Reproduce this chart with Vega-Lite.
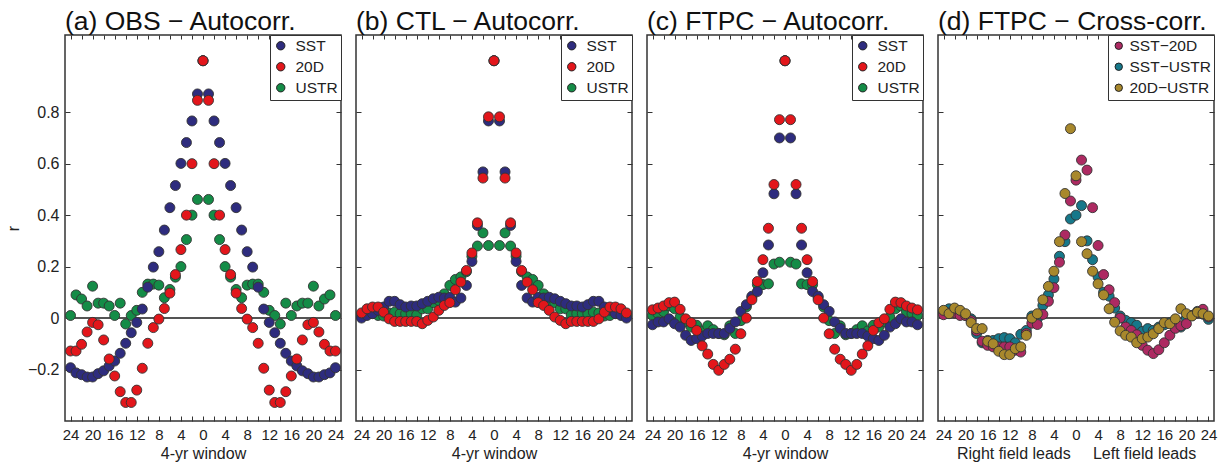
{
"$schema": "https://vega.github.io/schema/vega-lite/v6.json",
"background": "white",
"padding": {"left": 4, "top": 8, "right": 5, "bottom": 5},
"spacing": 7,
"config": {
  "font": "Liberation Sans",
  "view": {"stroke": "#333", "strokeWidth": 1.5},
  "axis": {"grid": false, "domain": false, "tickColor": "#333", "tickWidth": 1, "labelColor": "#222", "titleColor": "#222", "titleFontWeight": "normal", "labelFontSize": 16, "titleFontSize": 16, "labelFont": "Liberation Sans", "titleFont": "Liberation Sans"},
  "title": {"fontSize": 26.5, "fontWeight": "normal", "anchor": "start", "frame": "group", "offset": -1, "color": "#111", "font": "Liberation Sans"},
  "legend": {"strokeColor": "#333", "fillColor": "white", "padding": 3, "labelFontSize": 15.5, "symbolSize": 70, "symbolType": "circle", "rowPadding": 4, "symbolStrokeColor": "#222", "symbolStrokeWidth": 1, "labelColor": "#222", "labelOffset": 7, "labelFont": "Liberation Sans"}
},
"datasets": {
  "A": [
    {"lag": -24, "SST": -0.193, "20D": -0.128, "USTR": 0.01},
    {"lag": -23, "SST": -0.213, "20D": -0.128, "USTR": 0.09},
    {"lag": -22, "SST": -0.22, "20D": -0.102, "USTR": 0.074},
    {"lag": -21, "SST": -0.229, "20D": -0.054, "USTR": 0.047},
    {"lag": -20, "SST": -0.229, "20D": -0.017, "USTR": 0.124},
    {"lag": -19, "SST": -0.216, "20D": -0.026, "USTR": 0.058},
    {"lag": -18, "SST": -0.205, "20D": -0.085, "USTR": 0.058},
    {"lag": -17, "SST": -0.186, "20D": -0.159, "USTR": 0.047},
    {"lag": -16, "SST": -0.167, "20D": -0.225, "USTR": 0.01},
    {"lag": -15, "SST": -0.137, "20D": -0.286, "USTR": 0.058},
    {"lag": -14, "SST": -0.098, "20D": -0.328, "USTR": -0.023},
    {"lag": -13, "SST": -0.057, "20D": -0.328, "USTR": 0.01},
    {"lag": -12, "SST": -0.017, "20D": -0.28, "USTR": 0.03},
    {"lag": -11, "SST": 0.035, "20D": -0.195, "USTR": 0.1},
    {"lag": -10, "SST": 0.12, "20D": -0.098, "USTR": 0.132},
    {"lag": -9, "SST": 0.198, "20D": -0.037, "USTR": 0.132},
    {"lag": -8, "SST": 0.258, "20D": -0.004, "USTR": 0.128},
    {"lag": -7, "SST": 0.342, "20D": 0.037, "USTR": 0.079},
    {"lag": -6, "SST": 0.429, "20D": 0.097, "USTR": 0.111},
    {"lag": -5, "SST": 0.515, "20D": 0.169, "USTR": 0.159},
    {"lag": -4, "SST": 0.601, "20D": 0.266, "USTR": 0.2},
    {"lag": -3, "SST": 0.682, "20D": 0.4, "USTR": 0.305},
    {"lag": -2, "SST": 0.766, "20D": 0.6, "USTR": 0.4},
    {"lag": -1, "SST": 0.871, "20D": 0.846, "USTR": 0.461},
    {"lag": 0, "SST": 1, "20D": 1, "USTR": 1},
    {"lag": 1, "SST": 0.871, "20D": 0.846, "USTR": 0.461},
    {"lag": 2, "SST": 0.766, "20D": 0.6, "USTR": 0.4},
    {"lag": 3, "SST": 0.682, "20D": 0.4, "USTR": 0.305},
    {"lag": 4, "SST": 0.601, "20D": 0.266, "USTR": 0.2},
    {"lag": 5, "SST": 0.515, "20D": 0.169, "USTR": 0.159},
    {"lag": 6, "SST": 0.429, "20D": 0.097, "USTR": 0.111},
    {"lag": 7, "SST": 0.342, "20D": 0.037, "USTR": 0.079},
    {"lag": 8, "SST": 0.258, "20D": -0.004, "USTR": 0.128},
    {"lag": 9, "SST": 0.198, "20D": -0.037, "USTR": 0.132},
    {"lag": 10, "SST": 0.12, "20D": -0.098, "USTR": 0.132},
    {"lag": 11, "SST": 0.035, "20D": -0.195, "USTR": 0.1},
    {"lag": 12, "SST": -0.017, "20D": -0.28, "USTR": 0.03},
    {"lag": 13, "SST": -0.057, "20D": -0.328, "USTR": 0.01},
    {"lag": 14, "SST": -0.098, "20D": -0.328, "USTR": -0.023},
    {"lag": 15, "SST": -0.137, "20D": -0.286, "USTR": 0.058},
    {"lag": 16, "SST": -0.167, "20D": -0.225, "USTR": 0.01},
    {"lag": 17, "SST": -0.186, "20D": -0.159, "USTR": 0.047},
    {"lag": 18, "SST": -0.205, "20D": -0.085, "USTR": 0.058},
    {"lag": 19, "SST": -0.216, "20D": -0.026, "USTR": 0.058},
    {"lag": 20, "SST": -0.229, "20D": -0.017, "USTR": 0.124},
    {"lag": 21, "SST": -0.229, "20D": -0.054, "USTR": 0.047},
    {"lag": 22, "SST": -0.22, "20D": -0.102, "USTR": 0.074},
    {"lag": 23, "SST": -0.213, "20D": -0.128, "USTR": 0.09},
    {"lag": 24, "SST": -0.193, "20D": -0.128, "USTR": 0.01}
  ],
  "B": [
    {"lag": -24, "SST": 0.0, "20D": 0.02, "USTR": 0.01},
    {"lag": -23, "SST": 0.01, "20D": 0.036, "USTR": 0.02},
    {"lag": -22, "SST": 0.017, "20D": 0.043, "USTR": 0.02},
    {"lag": -21, "SST": 0.03, "20D": 0.043, "USTR": 0.01},
    {"lag": -20, "SST": 0.043, "20D": 0.023, "USTR": 0.008},
    {"lag": -19, "SST": 0.065, "20D": -0.003, "USTR": 0.02},
    {"lag": -18, "SST": 0.065, "20D": -0.013, "USTR": 0.023},
    {"lag": -17, "SST": 0.052, "20D": -0.013, "USTR": 0.017},
    {"lag": -16, "SST": 0.043, "20D": -0.013, "USTR": 0.017},
    {"lag": -15, "SST": 0.047, "20D": -0.013, "USTR": 0.017},
    {"lag": -14, "SST": 0.047, "20D": -0.013, "USTR": 0.012},
    {"lag": -13, "SST": 0.056, "20D": -0.022, "USTR": 0.036},
    {"lag": -12, "SST": 0.065, "20D": -0.009, "USTR": 0.036},
    {"lag": -11, "SST": 0.075, "20D": 0.004, "USTR": 0.06},
    {"lag": -10, "SST": 0.081, "20D": 0.03, "USTR": 0.068},
    {"lag": -9, "SST": 0.078, "20D": 0.049, "USTR": 0.094},
    {"lag": -8, "SST": 0.08, "20D": 0.06, "USTR": 0.127},
    {"lag": -7, "SST": 0.062, "20D": 0.11, "USTR": 0.15},
    {"lag": -6, "SST": 0.078, "20D": 0.14, "USTR": 0.16},
    {"lag": -5, "SST": 0.127, "20D": 0.185, "USTR": 0.18},
    {"lag": -4, "SST": 0.22, "20D": 0.253, "USTR": 0.24},
    {"lag": -3, "SST": 0.36, "20D": 0.37, "USTR": 0.28},
    {"lag": -2, "SST": 0.568, "20D": 0.544, "USTR": 0.331},
    {"lag": -1, "SST": 0.766, "20D": 0.782, "USTR": 0.282},
    {"lag": 0, "SST": 1, "20D": 1, "USTR": 1},
    {"lag": 1, "SST": 0.766, "20D": 0.782, "USTR": 0.282},
    {"lag": 2, "SST": 0.568, "20D": 0.544, "USTR": 0.331},
    {"lag": 3, "SST": 0.36, "20D": 0.37, "USTR": 0.28},
    {"lag": 4, "SST": 0.22, "20D": 0.253, "USTR": 0.24},
    {"lag": 5, "SST": 0.127, "20D": 0.185, "USTR": 0.18},
    {"lag": 6, "SST": 0.078, "20D": 0.14, "USTR": 0.16},
    {"lag": 7, "SST": 0.062, "20D": 0.11, "USTR": 0.15},
    {"lag": 8, "SST": 0.08, "20D": 0.06, "USTR": 0.127},
    {"lag": 9, "SST": 0.078, "20D": 0.049, "USTR": 0.094},
    {"lag": 10, "SST": 0.081, "20D": 0.03, "USTR": 0.068},
    {"lag": 11, "SST": 0.075, "20D": 0.004, "USTR": 0.06},
    {"lag": 12, "SST": 0.065, "20D": -0.009, "USTR": 0.036},
    {"lag": 13, "SST": 0.056, "20D": -0.022, "USTR": 0.036},
    {"lag": 14, "SST": 0.047, "20D": -0.013, "USTR": 0.012},
    {"lag": 15, "SST": 0.047, "20D": -0.013, "USTR": 0.017},
    {"lag": 16, "SST": 0.043, "20D": -0.013, "USTR": 0.017},
    {"lag": 17, "SST": 0.052, "20D": -0.013, "USTR": 0.017},
    {"lag": 18, "SST": 0.065, "20D": -0.013, "USTR": 0.023},
    {"lag": 19, "SST": 0.065, "20D": -0.003, "USTR": 0.02},
    {"lag": 20, "SST": 0.043, "20D": 0.023, "USTR": 0.008},
    {"lag": 21, "SST": 0.03, "20D": 0.043, "USTR": 0.01},
    {"lag": 22, "SST": 0.017, "20D": 0.043, "USTR": 0.02},
    {"lag": 23, "SST": 0.01, "20D": 0.036, "USTR": 0.02},
    {"lag": 24, "SST": 0.0, "20D": 0.02, "USTR": 0.01}
  ],
  "C": [
    {"lag": -24, "SST": -0.026, "20D": 0.032, "USTR": 0.01},
    {"lag": -23, "SST": -0.015, "20D": 0.039, "USTR": 0.017},
    {"lag": -22, "SST": -0.015, "20D": 0.047, "USTR": 0.025},
    {"lag": -21, "SST": -0.003, "20D": 0.06, "USTR": 0.047},
    {"lag": -20, "SST": -0.022, "20D": 0.062, "USTR": 0.036},
    {"lag": -19, "SST": -0.035, "20D": 0.034, "USTR": 0.004},
    {"lag": -18, "SST": -0.067, "20D": -0.003, "USTR": -0.015},
    {"lag": -17, "SST": -0.087, "20D": -0.018, "USTR": -0.035},
    {"lag": -16, "SST": -0.08, "20D": -0.048, "USTR": -0.028},
    {"lag": -15, "SST": -0.07, "20D": -0.108, "USTR": -0.05},
    {"lag": -14, "SST": -0.06, "20D": -0.14, "USTR": -0.03},
    {"lag": -13, "SST": -0.06, "20D": -0.18, "USTR": -0.045},
    {"lag": -12, "SST": -0.06, "20D": -0.203, "USTR": -0.06},
    {"lag": -11, "SST": -0.06, "20D": -0.18, "USTR": -0.065},
    {"lag": -10, "SST": -0.04, "20D": -0.16, "USTR": -0.03},
    {"lag": -9, "SST": -0.015, "20D": -0.121, "USTR": -0.06},
    {"lag": -8, "SST": 0.026, "20D": -0.061, "USTR": -0.01},
    {"lag": -7, "SST": 0.052, "20D": 0.0, "USTR": 0.043},
    {"lag": -6, "SST": 0.085, "20D": 0.071, "USTR": 0.08},
    {"lag": -5, "SST": 0.103, "20D": 0.142, "USTR": 0.13},
    {"lag": -4, "SST": 0.176, "20D": 0.227, "USTR": 0.13},
    {"lag": -3, "SST": 0.284, "20D": 0.349, "USTR": 0.133},
    {"lag": -2, "SST": 0.483, "20D": 0.519, "USTR": 0.21},
    {"lag": -1, "SST": 0.7, "20D": 0.771, "USTR": 0.217},
    {"lag": 0, "SST": 1, "20D": 1, "USTR": 1},
    {"lag": 1, "SST": 0.7, "20D": 0.771, "USTR": 0.217},
    {"lag": 2, "SST": 0.483, "20D": 0.519, "USTR": 0.21},
    {"lag": 3, "SST": 0.284, "20D": 0.349, "USTR": 0.133},
    {"lag": 4, "SST": 0.176, "20D": 0.227, "USTR": 0.13},
    {"lag": 5, "SST": 0.103, "20D": 0.142, "USTR": 0.13},
    {"lag": 6, "SST": 0.085, "20D": 0.071, "USTR": 0.08},
    {"lag": 7, "SST": 0.052, "20D": 0.0, "USTR": 0.043},
    {"lag": 8, "SST": 0.026, "20D": -0.061, "USTR": -0.01},
    {"lag": 9, "SST": -0.015, "20D": -0.121, "USTR": -0.06},
    {"lag": 10, "SST": -0.04, "20D": -0.16, "USTR": -0.03},
    {"lag": 11, "SST": -0.06, "20D": -0.18, "USTR": -0.065},
    {"lag": 12, "SST": -0.06, "20D": -0.203, "USTR": -0.06},
    {"lag": 13, "SST": -0.06, "20D": -0.18, "USTR": -0.045},
    {"lag": 14, "SST": -0.06, "20D": -0.14, "USTR": -0.03},
    {"lag": 15, "SST": -0.07, "20D": -0.108, "USTR": -0.05},
    {"lag": 16, "SST": -0.08, "20D": -0.048, "USTR": -0.028},
    {"lag": 17, "SST": -0.087, "20D": -0.018, "USTR": -0.035},
    {"lag": 18, "SST": -0.067, "20D": -0.003, "USTR": -0.015},
    {"lag": 19, "SST": -0.035, "20D": 0.034, "USTR": 0.004},
    {"lag": 20, "SST": -0.022, "20D": 0.062, "USTR": 0.036},
    {"lag": 21, "SST": -0.003, "20D": 0.06, "USTR": 0.047},
    {"lag": 22, "SST": -0.015, "20D": 0.047, "USTR": 0.025},
    {"lag": 23, "SST": -0.015, "20D": 0.039, "USTR": 0.017},
    {"lag": 24, "SST": -0.026, "20D": 0.032, "USTR": 0.01}
  ],
  "D": [
    {"lag": -24, "SST−20D": 0.013, "SST−USTR": 0.023, "20D−USTR": 0.03},
    {"lag": -23, "SST−20D": 0.02, "SST−USTR": 0.036, "20D−USTR": 0.017},
    {"lag": -22, "SST−20D": 0.02, "SST−USTR": 0.03, "20D−USTR": 0.039},
    {"lag": -21, "SST−20D": 0.01, "SST−USTR": 0.02, "20D−USTR": 0.03},
    {"lag": -20, "SST−20D": 0.01, "SST−USTR": 0.01, "20D−USTR": 0.017},
    {"lag": -19, "SST−20D": -0.01, "SST−USTR": -0.003, "20D−USTR": -0.018},
    {"lag": -18, "SST−20D": -0.05, "SST−USTR": -0.06, "20D−USTR": -0.041},
    {"lag": -17, "SST−20D": -0.09, "SST−USTR": -0.096, "20D−USTR": -0.041},
    {"lag": -16, "SST−20D": -0.106, "SST−USTR": -0.087, "20D−USTR": -0.09},
    {"lag": -15, "SST−20D": -0.112, "SST−USTR": -0.087, "20D−USTR": -0.1},
    {"lag": -14, "SST−20D": -0.112, "SST−USTR": -0.08, "20D−USTR": -0.129},
    {"lag": -13, "SST−20D": -0.112, "SST−USTR": -0.076, "20D−USTR": -0.142},
    {"lag": -12, "SST−20D": -0.112, "SST−USTR": -0.08, "20D−USTR": -0.142},
    {"lag": -11, "SST−20D": -0.125, "SST−USTR": -0.096, "20D−USTR": -0.119},
    {"lag": -10, "SST−20D": -0.132, "SST−USTR": -0.063, "20D−USTR": -0.112},
    {"lag": -9, "SST−20D": -0.06, "SST−USTR": -0.048, "20D−USTR": -0.067},
    {"lag": -8, "SST−20D": -0.02, "SST−USTR": 0.008, "20D−USTR": 0.0},
    {"lag": -7, "SST−20D": -0.025, "SST−USTR": -0.003, "20D−USTR": 0.017},
    {"lag": -6, "SST−20D": 0.014, "SST−USTR": 0.049, "20D−USTR": 0.071},
    {"lag": -5, "SST−20D": 0.065, "SST−USTR": 0.09, "20D−USTR": 0.123},
    {"lag": -4, "SST−20D": 0.118, "SST−USTR": 0.152, "20D−USTR": 0.182},
    {"lag": -3, "SST−20D": 0.217, "SST−USTR": 0.24, "20D−USTR": 0.297},
    {"lag": -2, "SST−20D": 0.323, "SST−USTR": 0.297, "20D−USTR": 0.484},
    {"lag": -1, "SST−20D": 0.455, "SST−USTR": 0.385, "20D−USTR": 0.736},
    {"lag": 0, "SST−20D": 0.536, "SST−USTR": 0.4, "20D−USTR": 0.553},
    {"lag": 1, "SST−20D": 0.614, "SST−USTR": 0.437, "20D−USTR": 0.297},
    {"lag": 2, "SST−20D": 0.575, "SST−USTR": 0.3, "20D−USTR": 0.25},
    {"lag": 3, "SST−20D": 0.429, "SST−USTR": 0.227, "20D−USTR": 0.182},
    {"lag": 4, "SST−20D": 0.282, "SST−USTR": 0.16, "20D−USTR": 0.133},
    {"lag": 5, "SST−20D": 0.169, "SST−USTR": 0.1, "20D−USTR": 0.09},
    {"lag": 6, "SST−20D": 0.11, "SST−USTR": 0.085, "20D−USTR": 0.036},
    {"lag": 7, "SST−20D": 0.06, "SST−USTR": 0.039, "20D−USTR": -0.016},
    {"lag": 8, "SST−20D": 0.0, "SST−USTR": 0.008, "20D−USTR": -0.05},
    {"lag": 9, "SST−20D": -0.035, "SST−USTR": -0.009, "20D−USTR": -0.067},
    {"lag": 10, "SST−20D": -0.048, "SST−USTR": -0.018, "20D−USTR": -0.074},
    {"lag": 11, "SST−20D": -0.065, "SST−USTR": -0.028, "20D−USTR": -0.096},
    {"lag": 12, "SST−20D": -0.106, "SST−USTR": -0.052, "20D−USTR": -0.08},
    {"lag": 13, "SST−20D": -0.125, "SST−USTR": -0.041, "20D−USTR": -0.074},
    {"lag": 14, "SST−20D": -0.138, "SST−USTR": -0.048, "20D−USTR": -0.061},
    {"lag": 15, "SST−20D": -0.123, "SST−USTR": -0.035, "20D−USTR": -0.041},
    {"lag": 16, "SST−20D": -0.096, "SST−USTR": -0.026, "20D−USTR": -0.018},
    {"lag": 17, "SST−20D": -0.067, "SST−USTR": -0.018, "20D−USTR": -0.022},
    {"lag": 18, "SST−20D": -0.04, "SST−USTR": -0.035, "20D−USTR": -0.003},
    {"lag": 19, "SST−20D": -0.03, "SST−USTR": -0.035, "20D−USTR": 0.036},
    {"lag": 20, "SST−20D": -0.022, "SST−USTR": 0.0, "20D−USTR": 0.017},
    {"lag": 21, "SST−20D": 0.01, "SST−USTR": 0.01, "20D−USTR": 0.008},
    {"lag": 22, "SST−20D": 0.02, "SST−USTR": 0.026, "20D−USTR": 0.023},
    {"lag": 23, "SST−20D": 0.034, "SST−USTR": 0.015, "20D−USTR": 0.017},
    {"lag": 24, "SST−20D": 0.004, "SST−USTR": -0.005, "20D−USTR": 0.008}
  ]
},
"resolve": {"scale": {"color": "independent"}},
"hconcat": [
  {
    "title": "(a) OBS − Autocorr.",
    "width": 276, "height": 386,
    "data": {"name": "A"},
    "transform": [{"fold": ["SST", "20D", "USTR"], "as": ["s", "r"]}],
    "layer": [
      {"mark": {"type": "rule", "color": "#555", "strokeWidth": 1.3},
       "encoding": {"y": {"datum": 0, "type": "quantitative", "scale": {"domain": [-0.4, 1.1], "nice": false, "zero": false}, "axis": null}}},
      {"mark": {"type": "point", "filled": true, "size": 100, "opacity": 1, "stroke": "#333", "strokeWidth": 0.9},
       "encoding": {
         "x": {"field": "lag", "type": "quantitative", "scale": {"domain": [-25, 25], "nice": false, "zero": false},
               "axis": {"orient": "bottom", "values": [-24,-22,-20,-18,-16,-14,-12,-10,-8,-6,-4,-2,0,2,4,6,8,10,12,14,16,18,20,22,24], "labelExpr": "datum.value % 4 === 0 ? '' + abs(datum.value) : ''", "title": "4-yr window", "labelFontSize": 15, "tickSize": -5, "labelPadding": 11, "labelFlush": false, "labelOverlap": false, "titlePadding": 3}},
         "y": {"field": "r", "type": "quantitative", "scale": {"domain": [-0.4, 1.1], "nice": false, "zero": false},
               "axis": {"values": [-0.2, 0, 0.2, 0.4, 0.6, 0.8], "labelExpr": "datum.value === 0 ? '0' : format(datum.value, '.1f')", "title": "r", "tickSize": -5, "labelPadding": 11, "titlePadding": 6}},
         "color": {"field": "s", "type": "nominal", "scale": {"domain": ["SST", "20D", "USTR"], "range": ["#2e2c7e", "#e3161b", "#148c47"]}, "legend": {"title": null, "orient": "top-right", "offset": 0}},
         "order": {"field": "s", "sort": "descending"}
       }},
      {"mark": {"type": "point", "opacity": 0},
       "encoding": {
         "x": {"field": "lag", "type": "quantitative", "scale": {"domain": [-25, 25], "nice": false, "zero": false},
               "axis": {"orient": "top", "values": [-24,-22,-20,-18,-16,-14,-12,-10,-8,-6,-4,-2,0,2,4,6,8,10,12,14,16,18,20,22,24], "labels": false, "title": null, "tickSize": -4}},
         "y": {"field": "r", "type": "quantitative", "scale": {"domain": [-0.4, 1.1], "nice": false, "zero": false},
               "axis": {"orient": "right", "values": [-0.2, 0, 0.2, 0.4, 0.6, 0.8], "labels": false, "title": null, "tickSize": -5}}
       }}
    ],
    "resolve": {"axis": {"x": "independent", "y": "independent"}}
  },
  {
    "title": "(b) CTL − Autocorr.",
    "width": 276, "height": 386,
    "data": {"name": "B"},
    "transform": [{"fold": ["SST", "20D", "USTR"], "as": ["s", "r"]}],
    "layer": [
      {"mark": {"type": "rule", "color": "#555", "strokeWidth": 1.3},
       "encoding": {"y": {"datum": 0, "type": "quantitative", "scale": {"domain": [-0.4, 1.1], "nice": false, "zero": false}, "axis": null}}},
      {"mark": {"type": "point", "filled": true, "size": 100, "opacity": 1, "stroke": "#333", "strokeWidth": 0.9},
       "encoding": {
         "x": {"field": "lag", "type": "quantitative", "scale": {"domain": [-25, 25], "nice": false, "zero": false},
               "axis": {"orient": "bottom", "values": [-24,-22,-20,-18,-16,-14,-12,-10,-8,-6,-4,-2,0,2,4,6,8,10,12,14,16,18,20,22,24], "labelExpr": "datum.value % 4 === 0 ? '' + abs(datum.value) : ''", "title": "4-yr window", "labelFontSize": 15, "tickSize": -5, "labelPadding": 11, "labelFlush": false, "labelOverlap": false, "titlePadding": 3}},
         "y": {"field": "r", "type": "quantitative", "scale": {"domain": [-0.4, 1.1], "nice": false, "zero": false},
               "axis": {"values": [-0.2, 0, 0.2, 0.4, 0.6, 0.8], "labels": false, "title": null, "tickSize": -5}},
         "color": {"field": "s", "type": "nominal", "scale": {"domain": ["SST", "20D", "USTR"], "range": ["#2e2c7e", "#e3161b", "#148c47"]}, "legend": {"title": null, "orient": "top-right", "offset": 0}},
         "order": {"field": "s", "sort": "descending"}
       }},
      {"mark": {"type": "point", "opacity": 0},
       "encoding": {
         "x": {"field": "lag", "type": "quantitative", "scale": {"domain": [-25, 25], "nice": false, "zero": false},
               "axis": {"orient": "top", "values": [-24,-22,-20,-18,-16,-14,-12,-10,-8,-6,-4,-2,0,2,4,6,8,10,12,14,16,18,20,22,24], "labels": false, "title": null, "tickSize": -4}},
         "y": {"field": "r", "type": "quantitative", "scale": {"domain": [-0.4, 1.1], "nice": false, "zero": false},
               "axis": {"orient": "right", "values": [-0.2, 0, 0.2, 0.4, 0.6, 0.8], "labels": false, "title": null, "tickSize": -5}}
       }}
    ],
    "resolve": {"axis": {"x": "independent", "y": "independent"}}
  },
  {
    "title": "(c) FTPC − Autocorr.",
    "width": 276, "height": 386,
    "data": {"name": "C"},
    "transform": [{"fold": ["SST", "20D", "USTR"], "as": ["s", "r"]}],
    "layer": [
      {"mark": {"type": "rule", "color": "#555", "strokeWidth": 1.3},
       "encoding": {"y": {"datum": 0, "type": "quantitative", "scale": {"domain": [-0.4, 1.1], "nice": false, "zero": false}, "axis": null}}},
      {"mark": {"type": "point", "filled": true, "size": 100, "opacity": 1, "stroke": "#333", "strokeWidth": 0.9},
       "encoding": {
         "x": {"field": "lag", "type": "quantitative", "scale": {"domain": [-25, 25], "nice": false, "zero": false},
               "axis": {"orient": "bottom", "values": [-24,-22,-20,-18,-16,-14,-12,-10,-8,-6,-4,-2,0,2,4,6,8,10,12,14,16,18,20,22,24], "labelExpr": "datum.value % 4 === 0 ? '' + abs(datum.value) : ''", "title": "4-yr window", "labelFontSize": 15, "tickSize": -5, "labelPadding": 11, "labelFlush": false, "labelOverlap": false, "titlePadding": 3}},
         "y": {"field": "r", "type": "quantitative", "scale": {"domain": [-0.4, 1.1], "nice": false, "zero": false},
               "axis": {"values": [-0.2, 0, 0.2, 0.4, 0.6, 0.8], "labels": false, "title": null, "tickSize": -5}},
         "color": {"field": "s", "type": "nominal", "scale": {"domain": ["SST", "20D", "USTR"], "range": ["#2e2c7e", "#e3161b", "#148c47"]}, "legend": {"title": null, "orient": "top-right", "offset": 0}},
         "order": {"field": "s", "sort": "descending"}
       }},
      {"mark": {"type": "point", "opacity": 0},
       "encoding": {
         "x": {"field": "lag", "type": "quantitative", "scale": {"domain": [-25, 25], "nice": false, "zero": false},
               "axis": {"orient": "top", "values": [-24,-22,-20,-18,-16,-14,-12,-10,-8,-6,-4,-2,0,2,4,6,8,10,12,14,16,18,20,22,24], "labels": false, "title": null, "tickSize": -4}},
         "y": {"field": "r", "type": "quantitative", "scale": {"domain": [-0.4, 1.1], "nice": false, "zero": false},
               "axis": {"orient": "right", "values": [-0.2, 0, 0.2, 0.4, 0.6, 0.8], "labels": false, "title": null, "tickSize": -5}}
       }}
    ],
    "resolve": {"axis": {"x": "independent", "y": "independent"}}
  },
  {
    "title": "(d) FTPC − Cross-corr.",
    "width": 276, "height": 386,
    "data": {"name": "D"},
    "transform": [{"fold": ["SST−20D", "SST−USTR", "20D−USTR"], "as": ["s", "r"]}],
    "layer": [
      {"mark": {"type": "rule", "color": "#555", "strokeWidth": 1.3},
       "encoding": {"y": {"datum": 0, "type": "quantitative", "scale": {"domain": [-0.4, 1.1], "nice": false, "zero": false}, "axis": null}}},
      {"mark": {"type": "point", "filled": true, "size": 100, "opacity": 1, "stroke": "#333", "strokeWidth": 0.9},
       "encoding": {
         "x": {"field": "lag", "type": "quantitative", "scale": {"domain": [-25, 25], "nice": false, "zero": false},
               "axis": {"orient": "bottom", "values": [-24,-22,-20,-18,-16,-14,-12,-10,-8,-6,-4,-2,0,2,4,6,8,10,12,14,16,18,20,22,24], "labelExpr": "datum.value % 4 === 0 ? '' + abs(datum.value) : ''", "title": "Right field leads\u00a0\u00a0\u00a0\u00a0\u00a0Left field leads", "labelFontSize": 15, "tickSize": -5, "labelPadding": 11, "labelFlush": false, "labelOverlap": false, "titlePadding": 3}},
         "y": {"field": "r", "type": "quantitative", "scale": {"domain": [-0.4, 1.1], "nice": false, "zero": false},
               "axis": {"values": [-0.2, 0, 0.2, 0.4, 0.6, 0.8], "labels": false, "title": null, "tickSize": -5}},
         "color": {"field": "s", "type": "nominal", "scale": {"domain": ["SST−20D", "SST−USTR", "20D−USTR"], "range": ["#ad2a62", "#16788a", "#a8882c"]}, "legend": {"title": null, "orient": "top-right", "offset": 0, "labelOffset": 3, "symbolSize": 55}},
         "order": {"field": "s", "sort": "descending"}
       }},
      {"mark": {"type": "point", "opacity": 0},
       "encoding": {
         "x": {"field": "lag", "type": "quantitative", "scale": {"domain": [-25, 25], "nice": false, "zero": false},
               "axis": {"orient": "top", "values": [-24,-22,-20,-18,-16,-14,-12,-10,-8,-6,-4,-2,0,2,4,6,8,10,12,14,16,18,20,22,24], "labels": false, "title": null, "tickSize": -4}},
         "y": {"field": "r", "type": "quantitative", "scale": {"domain": [-0.4, 1.1], "nice": false, "zero": false},
               "axis": {"orient": "right", "values": [-0.2, 0, 0.2, 0.4, 0.6, 0.8], "labels": false, "title": null, "tickSize": -5}}
       }}
    ],
    "resolve": {"axis": {"x": "independent", "y": "independent"}}
  }
]
}
